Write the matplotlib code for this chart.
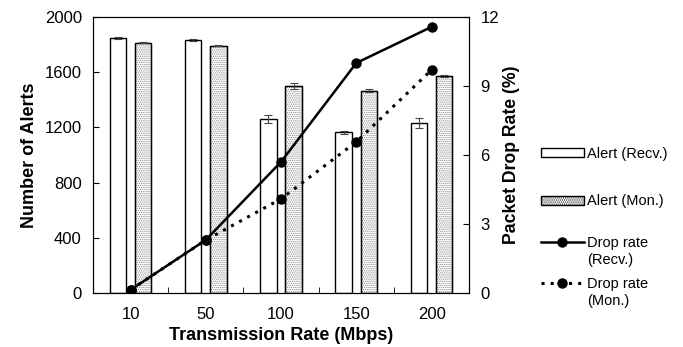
import numpy as np
import matplotlib.pyplot as plt
from matplotlib.lines import Line2D
from matplotlib.patches import Patch

plt.rcParams['font.family'] = ['Liberation Sans', 'DejaVu Sans']
plt.rcParams['hatch.linewidth'] = 0.6

rates = ['10', '50', '100', '150', '200']
alert_recv = [1848, 1833, 1262, 1164, 1230]
alert_recv_err = [5, 5, 30, 10, 38]
alert_mon = [1814, 1792, 1498, 1466, 1572]
alert_mon_err = [5, 5, 20, 10, 10]
drop_recv = [0.13, 2.3, 5.7, 10.0, 11.57]
drop_mon = [0.13, 2.3, 4.09, 6.57, 9.7]

x = np.arange(len(rates))
w = 0.22
ekw = dict(ecolor='#444444', elinewidth=0.8, capsize=3, capthick=0.8)

fig = plt.figure(figsize=(6.83, 3.47), dpi=100)
ax = fig.add_axes([0.136, 0.156, 0.551, 0.795])
ax2 = ax.twinx()

ax.bar(x - 0.167, alert_recv, w, color='white', edgecolor='black', linewidth=1.0,
       yerr=alert_recv_err, error_kw=ekw)
ax.bar(x + 0.167, alert_mon, w, color='white', edgecolor='#8a8a8a', linewidth=1.0, hatch='........')
# outline + error bars in black over the grey hatch
ax.bar(x + 0.167, alert_mon, w, color='none', edgecolor='black', linewidth=1.0,
       yerr=alert_mon_err, error_kw=ekw)

ax2.plot(x, drop_recv, color='black', lw=1.8, marker='o', ms=6.5)
ax2.plot(x, drop_mon, color='black', lw=2.2, ls=(0, (1, 2)), marker='o', ms=6.5)

ax.set_xlim(-0.5, 4.5)
ax.set_ylim(0, 2000)
ax.set_yticks([0, 400, 800, 1200, 1600, 2000])
ax2.set_ylim(0, 12)
ax2.set_yticks([0, 3, 6, 9, 12])

ax.set_xticks(x)
ax.set_xticklabels(rates)
ax.set_xticks(np.arange(0.5, 4.5, 1), minor=True)
ax.tick_params(axis='x', which='major', length=0, labelsize=12, pad=10)
ax.tick_params(axis='x', which='minor', direction='in', length=4)
ax.tick_params(axis='y', direction='in', length=4, labelsize=12, pad=8)
ax2.tick_params(axis='y', direction='in', length=4, labelsize=12, pad=8)

ax.set_xlabel('Transmission Rate (Mbps)', fontsize=13, fontweight='bold', labelpad=4)
ax.set_ylabel('Number of Alerts', fontsize=13, fontweight='bold', labelpad=5)
ax2.set_ylabel('Packet Drop Rate (%)', fontsize=12.7, fontweight='bold', labelpad=3)

leg_kw = dict(loc='upper left', frameon=False, fontsize=10.5, borderpad=0, borderaxespad=0,
              handlelength=2.95, handletextpad=0.2)

bar_handles = [
    Patch(facecolor='white', edgecolor='black', label='Alert (Recv.)'),
    Patch(facecolor='white', edgecolor='black', hatch='........', label='Alert (Mon.)'),
]
fig.legend(handles=bar_handles, bbox_to_anchor=(0.792, 0.577), handleheight=0.55,
           labelspacing=2.3, **leg_kw)

recv_h = [Line2D([], [], color='black', lw=1.8, marker='o', ms=6.5, label='Drop rate'),
          Line2D([], [], color='none', label='(Recv.)')]
mon_h = [Line2D([], [], color='black', lw=2.2, ls=(0, (1, 2)), marker='o', ms=6.5, label='Drop rate'),
         Line2D([], [], color='none', label='(Mon.)')]
fig.legend(handles=recv_h, bbox_to_anchor=(0.792, 0.320), labelspacing=0.2, **leg_kw)
fig.legend(handles=mon_h, bbox_to_anchor=(0.792, 0.201), labelspacing=0.2, **leg_kw)

fig.savefig('out.png', dpi=100)
